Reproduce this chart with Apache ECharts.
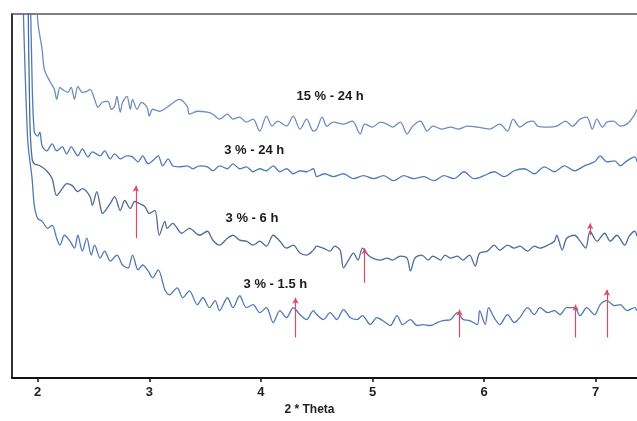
<!DOCTYPE html>
<html>
<head>
<meta charset="utf-8">
<script src="https://cdn.jsdelivr.net/npm/echarts@6/dist/echarts.min.js"></script>
<style>html,body{margin:0;padding:0;background:#fff;}#c{width:637px;height:421px;}</style>
</head>
<body>
<div id="c"></div>
<script>
// 2-theta ticks
var tickLabels = [2, 3, 4, 5, 6, 7];

// Intensity (a.u.) vs 2-theta
var s15_24 = [[1.99,420],[2.00,361],[2.04,331],[2.06,311],[2.11,299],[2.15,291],[2.17,281],[2.20,293],[2.22,291],[2.27,288],[2.30,293],[2.33,281],[2.36,294],[2.40,288],[2.44,289],[2.47,291],[2.51,281],[2.54,273],[2.58,278],[2.63,279],[2.66,271],[2.69,274],[2.71,284],[2.74,268],[2.76,278],[2.80,284],[2.83,271],[2.85,281],[2.89,271],[2.93,278],[2.98,273],[3.00,264],[3.03,271],[3.09,269],[3.16,273],[3.27,281],[3.34,274],[3.36,266],[3.43,269],[3.52,268],[3.57,266],[3.63,261],[3.70,266],[3.75,261],[3.81,263],[3.87,258],[3.93,261],[3.99,249],[4.05,264],[4.10,254],[4.15,259],[4.23,254],[4.29,264],[4.35,251],[4.41,261],[4.47,249],[4.50,251],[4.55,263],[4.59,254],[4.65,258],[4.74,256],[4.82,259],[4.89,246],[4.93,256],[5.00,253],[5.07,258],[5.13,256],[5.18,253],[5.25,258],[5.31,246],[5.36,254],[5.43,259],[5.49,249],[5.54,254],[5.62,251],[5.70,253],[5.77,251],[5.85,254],[5.94,253],[6.05,251],[6.14,256],[6.21,249],[6.26,261],[6.32,253],[6.39,258],[6.44,259],[6.48,254],[6.57,253],[6.65,254],[6.73,259],[6.79,254],[6.86,261],[6.92,263],[6.97,251],[7.01,261],[7.06,253],[7.10,258],[7.16,259],[7.22,254],[7.28,256],[7.34,264],[7.37,271]];

var s3_24 = [[1.93,420],[1.95,300],[1.97,248],[2.00,244],[2.02,248],[2.04,234],[2.08,229],[2.13,236],[2.17,229],[2.22,233],[2.26,226],[2.30,233],[2.36,224],[2.40,231],[2.45,223],[2.49,228],[2.56,224],[2.60,229],[2.65,221],[2.69,226],[2.74,221],[2.80,224],[2.85,223],[2.90,218],[2.94,224],[2.99,216],[3.03,219],[3.08,224],[3.12,214],[3.17,221],[3.21,214],[3.27,213],[3.34,214],[3.39,211],[3.45,214],[3.52,213],[3.57,209],[3.63,214],[3.70,211],[3.75,216],[3.81,211],[3.87,213],[3.93,208],[3.99,211],[4.05,209],[4.11,214],[4.17,208],[4.23,211],[4.29,206],[4.35,209],[4.41,208],[4.47,211],[4.50,203],[4.57,206],[4.65,203],[4.74,206],[4.83,201],[4.92,204],[5.01,201],[5.10,204],[5.19,199],[5.28,204],[5.37,201],[5.46,203],[5.55,199],[5.64,204],[5.73,201],[5.82,208],[5.91,201],[6.00,204],[6.09,208],[6.18,203],[6.27,209],[6.36,211],[6.45,206],[6.54,213],[6.63,208],[6.72,214],[6.81,209],[6.90,214],[6.99,218],[7.04,224],[7.10,218],[7.17,219],[7.22,214],[7.28,219],[7.35,223],[7.37,218]];

var s3_6 = [[1.91,420],[1.93,260],[1.95,221],[1.97,216],[2.02,214],[2.08,209],[2.13,201],[2.17,184],[2.22,191],[2.26,196],[2.31,194],[2.36,188],[2.40,191],[2.47,183],[2.49,174],[2.53,188],[2.56,174],[2.58,166],[2.65,176],[2.69,183],[2.74,169],[2.78,179],[2.83,171],[2.87,178],[2.91,176],[2.96,173],[3.00,166],[3.05,169],[3.09,144],[3.14,158],[3.16,151],[3.21,156],[3.29,146],[3.36,151],[3.45,144],[3.52,148],[3.57,139],[3.63,134],[3.70,141],[3.75,144],[3.81,139],[3.87,138],[3.93,134],[3.99,138],[4.05,133],[4.11,144],[4.17,138],[4.23,131],[4.29,134],[4.35,126],[4.41,124],[4.47,129],[4.50,133],[4.56,131],[4.62,128],[4.66,133],[4.71,129],[4.74,111],[4.78,118],[4.83,126],[4.87,119],[4.91,131],[4.96,124],[5.00,121],[5.07,119],[5.13,121],[5.18,119],[5.25,123],[5.31,121],[5.34,108],[5.38,121],[5.44,124],[5.50,119],[5.54,123],[5.61,119],[5.65,124],[5.70,121],[5.76,123],[5.81,119],[5.87,124],[5.92,113],[5.96,126],[6.03,128],[6.09,134],[6.14,129],[6.21,134],[6.27,131],[6.32,133],[6.39,128],[6.45,133],[6.50,131],[6.57,134],[6.63,138],[6.65,144],[6.70,129],[6.74,141],[6.81,144],[6.86,138],[6.91,131],[6.95,148],[7.01,138],[7.08,146],[7.13,138],[7.19,144],[7.26,134],[7.30,143],[7.35,148],[7.37,143]];

var s3_15 = [[1.86,420],[1.91,241],[1.95,201],[1.97,174],[2.00,161],[2.04,158],[2.09,151],[2.13,154],[2.17,141],[2.20,134],[2.24,144],[2.29,138],[2.33,131],[2.36,144],[2.40,128],[2.44,141],[2.48,124],[2.51,134],[2.56,121],[2.60,128],[2.65,118],[2.71,124],[2.76,114],[2.81,111],[2.85,124],[2.90,109],[2.94,114],[2.99,108],[3.03,101],[3.08,109],[3.14,89],[3.18,84],[3.25,91],[3.30,81],[3.36,88],[3.43,74],[3.48,81],[3.54,71],[3.59,78],[3.63,68],[3.70,81],[3.75,71],[3.81,83],[3.87,71],[3.93,74],[3.99,66],[4.05,71],[4.11,56],[4.17,68],[4.23,61],[4.29,71],[4.35,64],[4.41,59],[4.47,68],[4.50,64],[4.56,59],[4.62,66],[4.68,59],[4.74,69],[4.80,61],[4.86,59],[4.91,63],[4.98,54],[5.04,61],[5.09,58],[5.16,53],[5.22,63],[5.27,54],[5.34,59],[5.40,53],[5.45,54],[5.52,53],[5.58,56],[5.63,58],[5.70,59],[5.76,66],[5.81,59],[5.87,58],[5.94,54],[5.96,68],[6.01,54],[6.04,71],[6.09,61],[6.14,54],[6.21,64],[6.27,56],[6.32,61],[6.39,71],[6.45,64],[6.50,71],[6.57,66],[6.63,68],[6.68,64],[6.74,71],[6.81,71],[6.86,63],[6.92,71],[6.99,64],[7.04,74],[7.10,78],[7.17,73],[7.22,74],[7.28,68],[7.35,71],[7.37,68]];

// peak markers: [2theta, bottom, top]
var peakMarks = [[2.88,141,194],[4.31,41,81],[4.93,96,131],[5.78,41,69],[6.82,41,74],[6.95,144,156],[7.10,41,89]];

// curve labels: [text, 2theta, intensity]
var curveLabels = [['15 % - 24 h',4.62,284],['3 % - 24 h',3.94,229],['3 % - 6 h',3.92,161],['3 % - 1.5 h',4.13,94]];

var chart = echarts.init(document.getElementById('c'), null, {renderer:'canvas'});

function lineSeries(name, data, color){
  return {name:name, type:'line', data:data, showSymbol:false, smooth:0.3, clip:true,
    lineStyle:{color:color, width:1.3}, itemStyle:{color:color}, z:3};
}

var markLineData = peakMarks.map(function(p){
  return [{coord:[p[0],p[1]]},{coord:[p[0],p[2]]}];
});
var markPointData = curveLabels.map(function(l){
  return {coord:[l[1],l[2]], value:l[0]};
});

chart.setOption({
  animation:false,
  backgroundColor:'#ffffff',
  grid:{left:12, top:14, right:0, bottom:40, containLabel:false},
  xAxis:[{
    type:'value', min:1.77, max:7.37,
    name:'2 * Theta', nameLocation:'middle', nameGap:24,
    nameTextStyle:{color:'#222', fontSize:12, fontWeight:'bold', fontFamily:'Liberation Sans, Arial', padding:[0,30,0,0]},
    axisLine:{show:true, lineStyle:{color:'#111', width:2}},
    axisTick:{show:true, inside:false, length:4, customValues:tickLabels, lineStyle:{color:'#111', width:1.5}},
    axisLabel:{show:true, customValues:tickLabels, margin:8, color:'#222', fontSize:13, fontWeight:'bold', fontFamily:'Liberation Sans, Arial', formatter:function(v){return String(v);}},
    splitLine:{show:false}
  },{
    type:'value', position:'top', min:1.77, max:7.37,
    axisLine:{show:true, lineStyle:{color:'#555', width:1.5}},
    axisTick:{show:false}, axisLabel:{show:false}, splitLine:{show:false}
  }],
  yAxis:{
    type:'value', min:0, max:367,
    axisLine:{show:true, lineStyle:{color:'#333', width:2}},
    axisTick:{show:false}, axisLabel:{show:false}, splitLine:{show:false}
  },
  series:[
    lineSeries('15 % - 24 h', s15_24, '#6d8cc0'),
    lineSeries('3 % - 24 h', s3_24, '#4f78bd'),
    lineSeries('3 % - 6 h', s3_6, '#4d6b9c'),
    Object.assign(lineSeries('3 % - 1.5 h', s3_15, '#4f7ab8'), {
      markLine:{silent:true, symbol:['none','arrow'], symbolSize:[5,6], animation:false, z:5,
        lineStyle:{color:'#dc4a68', width:1.2, type:'solid', opacity:1}, emphasis:{disabled:true}, label:{show:false}, data:markLineData},
      markPoint:{silent:true, symbol:'circle', symbolSize:0, animation:false,
        label:{show:true, position:'inside', formatter:function(p){return p.value;}, color:'#1a1a1a', fontSize:13, fontWeight:'bold', fontFamily:'Liberation Sans, Arial'},
        data:markPointData}
    })
  ]
});
</script>
</body>
</html>
